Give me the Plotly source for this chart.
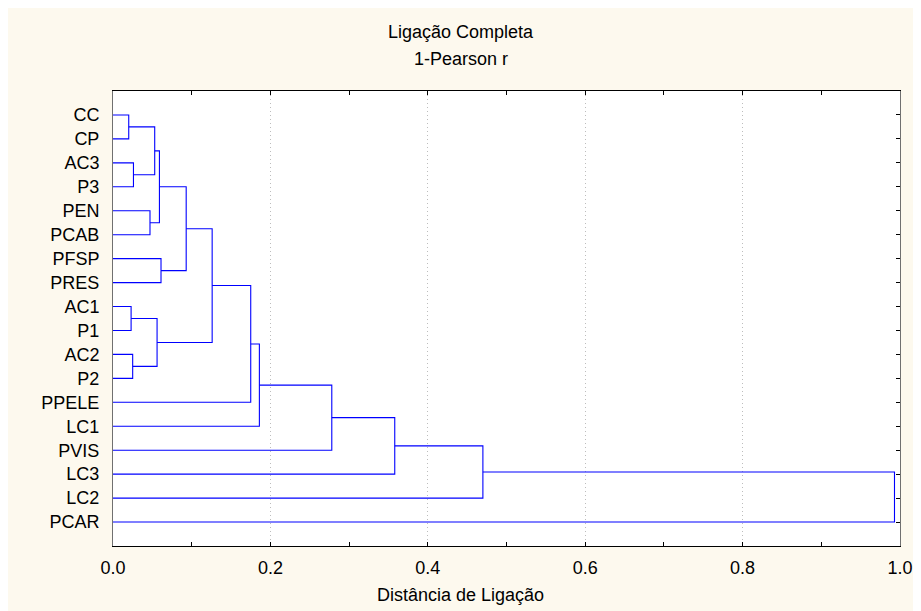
import plotly.graph_objects as go

# Leaves (top to bottom)
leaves = ["CC", "CP", "AC3", "P3", "PEN", "PCAB", "PFSP", "PRES",
          "AC1", "P1", "AC2", "P2", "PPELE", "LC1", "PVIS", "LC3", "LC2", "PCAR"]

# Merge steps: cluster a + cluster b at linkage distance h (new cluster named c1, c2, ...)
merge_a = ["CC", "AC1", "AC2", "AC3", "PEN", "c1", "c2", "c6", "PFSP", "c8", "c10",
           "c11", "c12", "c13", "c14", "c15", "c16"]
merge_b = ["CP", "P1", "P2", "P3", "PCAB", "c4", "c3", "c5", "PRES", "c9", "c7",
           "PPELE", "LC1", "PVIS", "LC3", "LC2", "PCAR"]
merge_h = [0.020, 0.023, 0.025, 0.026, 0.047, 0.053, 0.056, 0.059, 0.061, 0.093, 0.126,
           0.175, 0.186, 0.278, 0.358, 0.470, 0.993]

x_ticks = [0.0, 0.2, 0.4, 0.6, 0.8, 1.0]

pos = {name: i + 1 for i, name in enumerate(leaves)}
hgt = {name: 0.0 for name in leaves}
xs, ys = [], []
for k, (a, b, h) in enumerate(zip(merge_a, merge_b, merge_h)):
    xs += [hgt[a], h, h, hgt[b], None]
    ys += [pos[a], pos[a], pos[b], pos[b], None]
    name = f"c{k + 1}"
    pos[name] = (pos[a] + pos[b]) / 2
    hgt[name] = h

FONT = "Liberation Sans, Arial, sans-serif"
CREAM = "#fdf9ee"
FS = 18

fig = go.Figure()
fig.add_trace(go.Scatter(x=xs, y=ys, mode="lines",
                         line=dict(color="#0000ff", width=1.1),
                         hoverinfo="skip", showlegend=False))
# helper trace for right-side tick axis
fig.add_trace(go.Scatter(x=[0], y=[1], yaxis="y2", mode="markers",
                         marker=dict(opacity=0), hoverinfo="skip", showlegend=False))

fig.update_layout(
    width=913, height=603, autosize=False,
    margin=dict(l=105, r=21, t=83, b=65, autoexpand=False),
    paper_bgcolor=CREAM, plot_bgcolor="white",
    font=dict(family=FONT, size=FS, color="black"),
    xaxis=dict(range=[0, 1], tickvals=x_ticks, tickformat=".1f",
               ticks="inside", ticklen=4, tickcolor="black",
               minor=dict(dtick=0.1, tick0=0, ticks="inside", ticklen=3,
                          tickcolor="black", showgrid=False),
               showline=True, linecolor="black", linewidth=1, mirror="allticks",
               showgrid=True, gridcolor="#bdbdbd", griddash="1px,3px", gridwidth=1,
               zeroline=False, ticklabelstandoff=5, automargin=False,
               tickfont=dict(size=FS)),
    yaxis=dict(range=[19, 0], tickvals=list(range(1, len(leaves) + 1)), ticktext=leaves,
               ticks="", showgrid=False, zeroline=False,
               showline=True, linecolor="#707070", linewidth=1, mirror=True,
               ticklabelstandoff=9, automargin=False, tickfont=dict(size=FS)),
    yaxis2=dict(range=[19, 0], overlaying="y", side="right",
                tickvals=list(range(1, len(leaves) + 1)), showticklabels=False,
                ticks="inside", ticklen=4, tickcolor="black", automargin=False,
                showgrid=False, zeroline=False, showline=False),
    annotations=[
        dict(text="Ligação Completa", xref="paper", yref="paper", x=0.442, y=1.1297,
             xanchor="center", yanchor="middle", showarrow=False, font=dict(size=FS)),
        dict(text="1-Pearson r", xref="paper", yref="paper", x=0.442, y=1.0703,
             xanchor="center", yanchor="middle", showarrow=False, font=dict(size=FS)),
        dict(text="Distância de Ligação", xref="paper", yref="paper", x=0.442, y=-0.1077,
             xanchor="center", yanchor="middle", showarrow=False, font=dict(size=FS)),
    ],
)

fig.write_html("out.html")
